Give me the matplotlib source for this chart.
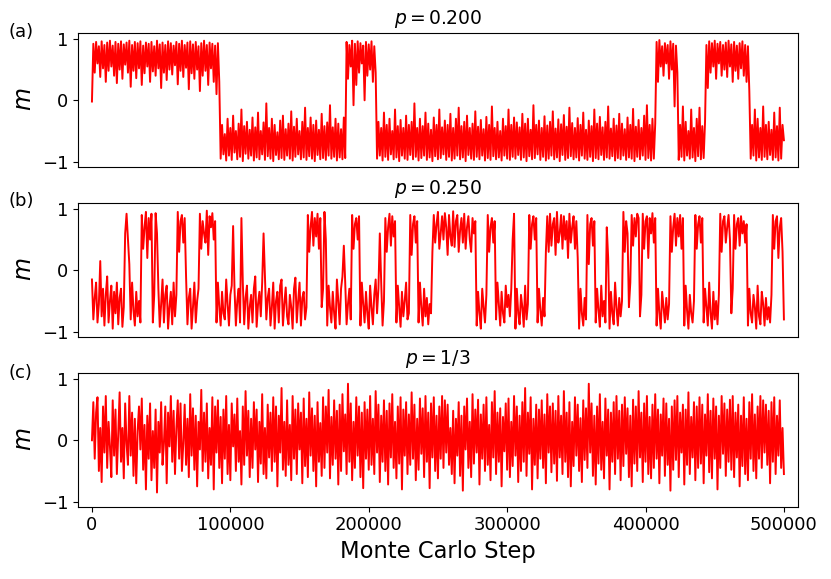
import numpy as np
import matplotlib
matplotlib.use("Agg")
import matplotlib.pyplot as plt

step = 1000  # Monte Carlo steps between stored samples
# values below are magnetisation m in hundredths (m * 100)

# ---- (a) p = 0.200 ----
m_a = [-2,
 92,45,95,60,88,38,96,52,90,30,94,48,97,55,89,40,95,28,92,50,
 96,35,91,58,94,45,97,22,90,48,95,36,93,52,96,25,89,44,94,55,
 92,30,95,47,88,40,97,52,91,20,94,45,90,33,96,50,93,42,89,57,
 95,26,92,48,97,38,90,53,94,18,96,44,91,35,95,50,88,15,93,40,
 97,48,90,25,94,52,92,30,89,10,93,30,
 -95,-40,-88,-55,-98,-30,-90,-45,-97,-25,-85,-50,-96,-38,-92,-15,-99,-42,-87,-35,
 -95,-48,-90,-28,-98,-44,-93,-20,-96,-50,-88,-36,-97,-5,-91,-45,-95,-30,-99,-40,
 -89,-52,-96,-33,-94,-25,-97,-47,-90,-38,-95,-18,-98,-43,-92,-30,-88,-50,-96,-35,
 -93,-12,-97,-45,-91,-28,-95,-40,-99,-33,-89,-48,-96,-22,-94,-42,-97,-36,-90,-8,
 -95,-44,-92,-30,-98,-38,-93,-47,-96,-28,-94,
 95,35,90,55,97,-8,92,25,96,45,93,60,89,0,95,40,91,50,96,30,88,45,
 -95,-35,-90,-45,-98,-20,-92,-40,-97,-30,-88,-50,-96,-15,-93,-42,-99,-32,-90,-45,
 -95,-25,-97,-40,-89,-35,-96,-5,-92,-45,-98,-30,-94,-42,-90,-20,-97,-38,-93,-48,
 -99,-28,-91,-40,-96,-15,-94,-44,-88,-33,-97,-40,-92,-22,-98,-45,-95,-30,-90,-12,
 -96,-42,-93,-35,-99,-25,-89,-45,-95,-38,-97,-18,-92,-43,-96,-32,-90,-47,-98,-27,
 -94,-40,-97,-10,-91,-45,-96,-35,-93,-50,-98,-30,-90,-42,-95,-15,-97,-40,-92,-28,
 -95,-36,-89,-44,-97,-22,-93,-38,-99,-30,-91,-48,-96,-8,-94,-40,-88,-33,-97,-45,
 -92,-26,-98,-41,-95,-35,-90,-18,-96,-46,-93,-31,-99,-39,-89,-24,-97,-43,-94,-12,
 -91,-37,-96,-45,-93,-29,-98,-40,-90,-20,-95,-48,-97,-33,-92,-42,-99,-15,-94,-38,
 -96,-27,-89,-44,-97,-35,-93,-10,-95,-46,-91,-30,-98,-41,-94,-22,-96,-38,-90,-47,
 -97,-28,-93,-40,-95,-14,-99,-43,-92,-32,-96,-45,-90,-25,-97,-8,-94,-40,-98,-30,
 -95,-38,
 95,30,98,55,88,40,93,60,90,35,96,50,92,-10,89,45,
 -97,-40,-92,-10,-98,-35,-90,-50,-95,-15,-93,-45,-99,-30,-91,-12,-96,-42,-94,-35,
 90,20,96,45,93,55,97,35,92,60,95,40,90,50,94,38,97,55,91,30,95,48,89,35,93,52,96,40,90,30,88,15,
 -95,-40,-90,-15,-98,-30,-93,-45,-97,-10,-92,-40,-96,-35,-89,-48,-97,-20,-93,-42,-98,-12,-95,-40,-65]

# ---- (b) p = 0.250 ----
m_b = [-15,-80,-45,-20,-85,-55,15,-75,-30,-90,-40,-10,-85,-50,-25,-95,-35,-70,-20,-88,-45,-30,-92,-60,
 60,92, 50,10,
 -80,-20,-65,-90,-35,-75,-50,-85,
 90,35,70,95,20,85,50,92,
 -85,-40, 93,60,
 -30,-92,-55,-15,-85,-40,-25,-95,-60,-35,-88,-20,-75,-40,
 95,30,80,90,45,85,
 -10,-88,-45,-30,-95,-60,-20,-85,-50,-30,
 92,35,80,60,45,97,25,88,70,93,50,80,
 -85,-20,-60,-90,-35,-70,-80,-15,-55,-90,-40,-25,72,-30,-90,-50,-30,-85,85,-20,
 -88,-45,-25,-95,-60,-40,-85,-30,-10,-92,-55,-35,-75,-20,60,-10,
 -80,-45,-30,-90,-60,-20,-95,-50,-35,-85,-25,-15,-90,-55,-28,-75,-88,-40,-60,-95,
 -30,-12,-85,-50,-20,-90,-45,-35,-80,-60,
 90,30,70,95,40,85,55,92,35,85,
 -60,-30, 95,50,
 -90,-25,-60,-85,-35,-70,-95,-15,-50,-88,-30,-10,40,-20,-88,-55,-30,-80,
 90,35,75,85,50,88,
 -90,-20,-55,-85,-35,-70,-95,-25,-60,-88,-40,-15,-70,-30,60,-20,-90,-50,
 85,30,70,92,40,88,55,80,
 -85,-25,-60,-92,-35,-75,-50,-20,-80,-70,
 90,25,75,88,45,80,
 -85,-20,-60,-90,-30,-75,-45,-88,-55,-70,
 30,90,45,75,95,35,60,88,50,93,70,25,90,55,40,96,38,80,90,30,65,85,45,92,35,70,88,50,30,85,60,80,
 -90,-35,-70,-95,-30,-60,-85,-40,
 90,30,70,85,45,80,
 -80,-20,-55,-90,-35,-70,-85,-25,-60,-40,-75,-30,
 50,92,
 -95,-30,-70,-88,-40,-60,-92,-25,-80,-55,
 90,35,75,88,50,85,
 -85,-30,-65,-90,-45,-75,
 30,88,
 30,92,40,75,85,25,95,45,60,90,35,88,50,80,20,92,45,70,88,35,80,20,
 -95,-30,-70,-90,-45,-80,
 90,10,75,85,40,80,
 -85,-30,-65,-92,-25,-75,-50,-85,
 70,20,
 -95,-35,-70,-88,-20,-60,-90,-45,-75,-50,
 95,30,80,60,-60,-20,90,40,85,55,92,85,
 -75,-40,
 92,35,80,88,20,85,60,93,45,85,
 -90,-30,-70,-95,-35,-60,-85,-45,-80,-55,
 88,30,70,92,40,85,55,90,35,85,
 -90,-25,-65,-95,-40,-70,-85,-50,
 90,35,75,88,45,85,
 -85,-30,-60,-90,-20,-70,-95,-35,-80,-50,-88,-40,
 92,30,80,88,45,70,90,50,-70,-30,90,35,75,85,40,88,60,80,45,75,
 -90,-30,-70,-85,-40,-60,-95,-25,-75,-88,-35,-55,-90,-45,-80,-60,-85,-40,
 90,35,80,88,20,70,85,30,
 -80]

# ---- (c) p = 1/3 ----
m_c = [0,62,-30,45,70,-50,20,-68,55,-20,72,-45,30,-10,-60,65,-25,50,-55,10,
 78,-35,20,-62,60,-5,-40,72,-25,45,-58,35,-70,15,55,-15,68,-48,25,-80,
 40,-30,60,-65,15,-45,50,-85,30,-20,62,-40,-5,55,-70,45,-10,72,-35,48,
 -55,20,65,-30,60,-50,-5,58,-40,35,-60,75,-25,52,-48,40,-75,30,-15,82,
 -50,45,-35,60,-62,20,-40,70,-80,55,-20,65,-45,38,-70,50,-30,72,-55,25,
 -65,60,-10,42,-50,68,-35,15,-72,55,-40,80,-25,48,-60,35,-45,62,-15,50,
 -68,30,-38,75,-55,20,-62,58,-28,45,-50,70,-35,55,-75,40,-20,85,-48,30,
 -58,65,-40,25,-65,72,-30,50,-55,60,-15,45,-70,68,-42,35,-60,78,-25,52,
 -50,40,-75,62,-35,28,-58,70,-45,55,-20,82,-62,38,-40,65,-30,48,-72,58,
 -50,75,-18,42,-55,92,-35,60,-65,30,-45,70,-25,55,-60,45,-78,62,-30,50,
 -48,72,-40,35,-55,80,-20,58,-68,40,-35,65,-50,48,-72,60,-28,75,-45,30,
 -62,55,-38,70,-80,50,-25,62,-55,42,-40,78,-30,58,-65,35,-48,68,-22,52,
 -60,72,-35,45,-78,60,-28,70,-50,40,-62,55,-30,72,-45,65,-20,58,-40,20,
 -55,48,-70,35,-25,62,-58,40,-82,55,-15,68,-45,30,-60,75,-38,50,-20,66,
 -72,42,-30,58,-50,70,-40,25,-65,62,-28,80,-55,45,-35,52,-75,38,-18,60,
 -48,68,-60,30,-42,72,-25,55,-68,40,-50,62,-35,85,-58,45,-22,70,-80,35,
 -40,58,-62,50,-30,65,-45,42,-70,75,-20,55,-52,60,-38,48,-66,72,-28,40,
 -55,80,-35,45,-60,62,-75,30,-42,70,-25,58,-50,36,-68,65,-32,52,-45,92,
 -20,60,-58,40,-72,55,-38,75,-48,30,-62,68,-25,50,-80,45,-35,62,-55,72,
 -30,48,-65,58,-42,70,-22,52,-60,40,-75,66,-38,55,-50,80,-28,45,-68,60,
 -35,72,-55,38,-62,58,-45,75,-30,50,-70,42,-25,68,-58,60,-40,35,-82,55,
 -48,65,-32,72,-60,45,-20,58,-72,50,-40,78,-55,38,-28,62,-65,55,-45,70,
 -38,58,-70,42,-25,75,-52,48,-62,68,-30,55,-80,40,-45,72,-22,60,-58,50,
 -35,66,-48,72,-60,45,-28,58,-75,40,-42,70,-55,35,-65,62,-30,75,-50,42,
 -62,55,-30,72,-45,65,-20,58,-40,48,-70,62,-35,70,-55,40,-25,65,-45,20,
 -55]

series = [m_a, m_b, m_c]
titles = ["$p=0.200$", "$p=0.250$", "$p=1/3$"]
panel_labels = ["(a)", "(b)", "(c)"]
xticks = [0, 100000, 200000, 300000, 400000, 500000]
yticks = [-1, 0, 1]

fig, axes = plt.subplots(3, 1, figsize=(8.31, 5.79), dpi=100, sharex=True)
fig.subplots_adjust(left=0.094, right=0.96, top=0.9435, bottom=0.125, hspace=0.269)

label_y_px = [32, 201, 373]
for ax, m, t, lab, ly in zip(axes, series, titles, panel_labels, label_y_px):
    vals = np.array(m, dtype=float) / 100.0
    x = np.arange(len(vals)) * step
    ax.plot(x, vals, color="red", lw=1.4)
    ax.set_title(t, fontsize=13.5)
    ax.set_ylabel("$m$", fontsize=17)
    ax.set_yticks(yticks)
    ax.set_ylim(-1.08, 1.10)
    ax.tick_params(labelsize=13)
    fig.text(9 / 831, 1 - ly / 579, lab, fontsize=13, ha="left", va="center")

axes[-1].set_xticks(xticks)
axes[-1].set_xticklabels([str(v) for v in xticks])
axes[-1].set_xlim(-10000, 510000)
axes[-1].set_xlabel("Monte Carlo Step", fontsize=16.3)
for ax in axes[:-1]:
    ax.tick_params(axis="x", bottom=False)

fig.savefig("out.png", dpi=100)
